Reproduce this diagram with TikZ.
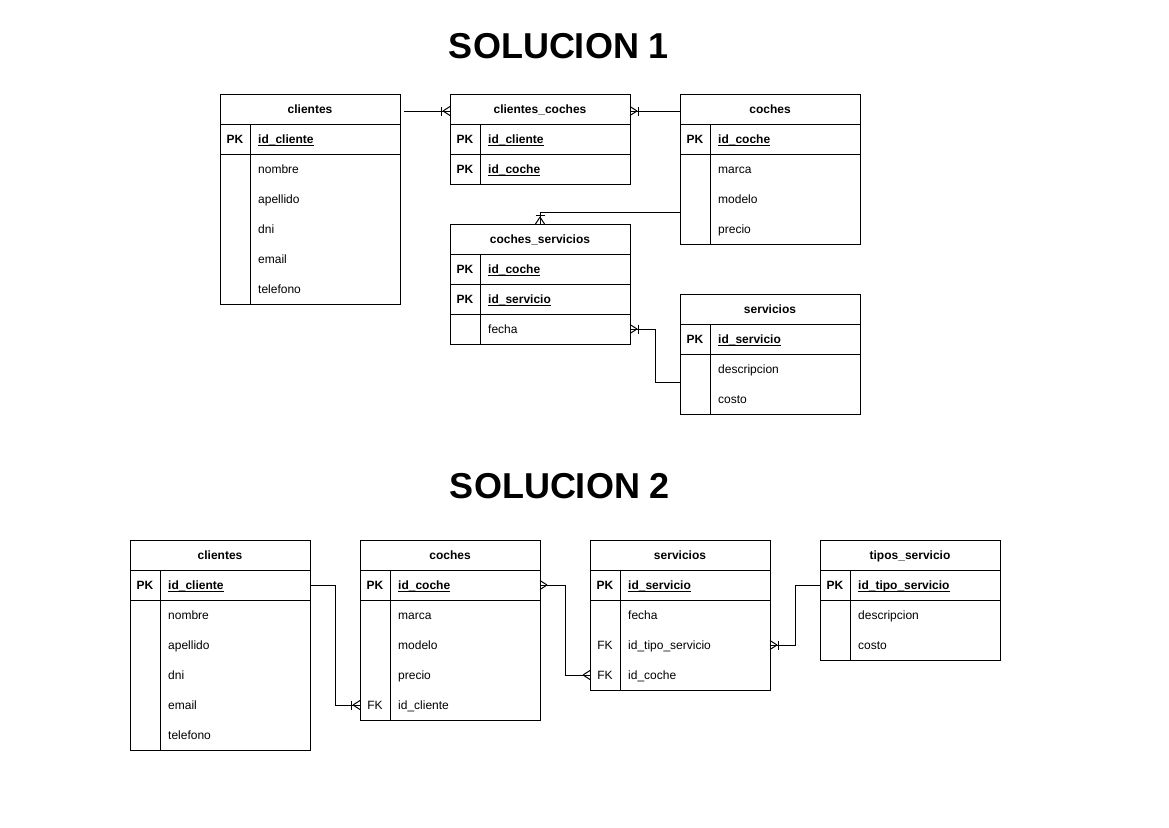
\documentclass[tikz,border=0pt]{standalone}
\usepackage{fontspec}
\setmainfont{Liberation Sans}
\usetikzlibrary{calc}
\newcommand\ulbox[1]{\setbox0\hbox{#1}\rlap{\rule[-2.6pt]{\wd0}{0.9pt}}\box0}
\tikzset{
  x=1pt, y=-1pt,
  tbl/.style={draw, line width=1pt, anchor=north west, minimum width=180pt, inner sep=0pt, outer sep=0pt},
  hdr/.style={font=\fontsize{12}{14}\selectfont\bfseries, inner sep=0pt, anchor=base},
  keyt/.style={font=\fontsize{12}{14}\selectfont\bfseries, inner sep=0pt, anchor=base},
  fkt/.style={font=\fontsize{12}{14}\selectfont, inner sep=0pt, anchor=base},
  fldt/.style={font=\fontsize{12}{14}\selectfont, anchor=base west, inner sep=0pt},
  pkf/.style={font=\fontsize{12}{14}\selectfont\bfseries, anchor=base west, inner sep=0pt},
  titlet/.style={font=\fontsize{36}{40}\selectfont\bfseries, inner sep=0pt},
  conn/.style={line width=1pt},
  sepl/.style={line width=1pt},
}
% table: name, x, y, title, rows
\newcommand\ertable[5]{%
  \node[tbl, minimum height={(#5+1)*30pt}] (#1) at (#2,#3) {};
  \node[hdr] (#1-h) at (#2+90,#3+19.5) {#4};
  \draw[sepl] (#2,#3+30) -- (#2+180,#3+30);
  \draw[sepl] (#2+30,#3+30) -- (#2+30,#3+30+#5*30);
}
% row: name, x, ytop, key, keystyle, field, fieldstyle
\newcommand\errow[7]{%
  \node[#5] (#1-k) at (#2+15,#3+19.5) {#4};
  \node[#7] (#1-f) at (#2+38,#3+19.5) {#6};
}
\newcommand\rowsep[2]{\draw[sepl] (#1,#2) -- (#1+180,#2);}
% crow's feet: E = table to the right, W = table to the left, S = table below
\newcommand\crowE[1]{\begin{scope}[shift={(#1)}]\draw[conn] (-7,0) -- (0,-4.5) (-7,0) -- (0,4.5);\end{scope}}
\newcommand\crowW[1]{\begin{scope}[shift={(#1)}]\draw[conn] (7,0) -- (0,-4.5) (7,0) -- (0,4.5);\end{scope}}
\newcommand\crowS[1]{\begin{scope}[shift={(#1)}]\draw[conn] (0,-7) -- (-4.5,0) (0,-7) -- (4.5,0);\end{scope}}
\newcommand\barE[1]{\begin{scope}[shift={(#1)}]\draw[conn] (-8.5,-4.5) -- (-8.5,4.5);\end{scope}}
\newcommand\barW[1]{\begin{scope}[shift={(#1)}]\draw[conn] (8.5,-4.5) -- (8.5,4.5);\end{scope}}
\newcommand\barS[1]{\begin{scope}[shift={(#1)}]\draw[conn] (-4.5,-8.5) -- (4.5,-8.5);\end{scope}}
\begin{document}
\begin{tikzpicture}
\useasboundingbox[fill=white] (0,0) rectangle (1169,827);

\node[titlet] (t1) at (559,46) {SOLUCION 1};
\node[titlet] (t2) at (560,486) {SOLUCION 2};

% ---------- SOLUCION 1 ----------
\ertable{cl1}{220}{94}{clientes}{6}
\rowsep{220}{154}
\errow{cl1a}{220}{124}{PK}{keyt}{\ulbox{id\_cliente}}{pkf}
\errow{cl1b}{220}{154}{}{keyt}{nombre}{fldt}
\errow{cl1c}{220}{184}{}{keyt}{apellido}{fldt}
\errow{cl1d}{220}{214}{}{keyt}{dni}{fldt}
\errow{cl1e}{220}{244}{}{keyt}{email}{fldt}
\errow{cl1f}{220}{274}{}{keyt}{telefono}{fldt}

\ertable{cc1}{450}{94}{clientes\_coches}{2}
\rowsep{450}{154}
\errow{cc1a}{450}{124}{PK}{keyt}{\ulbox{id\_cliente}}{pkf}
\errow{cc1b}{450}{154}{PK}{keyt}{\ulbox{id\_coche}}{pkf}

\ertable{co1}{680}{94}{coches}{4}
\rowsep{680}{154}
\errow{co1a}{680}{124}{PK}{keyt}{\ulbox{id\_coche}}{pkf}
\errow{co1b}{680}{154}{}{keyt}{marca}{fldt}
\errow{co1c}{680}{184}{}{keyt}{modelo}{fldt}
\errow{co1d}{680}{214}{}{keyt}{precio}{fldt}

\ertable{cs1}{450}{224}{coches\_servicios}{3}
\rowsep{450}{284}
\rowsep{450}{314}
\errow{cs1a}{450}{254}{PK}{keyt}{\ulbox{id\_coche}}{pkf}
\errow{cs1b}{450}{284}{PK}{keyt}{\ulbox{id\_servicio}}{pkf}
\errow{cs1c}{450}{314}{}{keyt}{fecha}{fldt}

\ertable{se1}{680}{294}{servicios}{3}
\rowsep{680}{354}
\errow{se1a}{680}{324}{PK}{keyt}{\ulbox{id\_servicio}}{pkf}
\errow{se1b}{680}{354}{}{keyt}{descripcion}{fldt}
\errow{se1c}{680}{384}{}{keyt}{costo}{fldt}

% connectors S1
\coordinate (k1a) at ($(cl1.north east)+(4,17)$);
\coordinate (k1b) at ($(cc1.north west)+(0,17)$);
\draw[conn] (k1a) -- (k1b);
\crowE{k1b}\barE{k1b}

\coordinate (k2a) at ($(co1.north west)+(0,17)$);
\coordinate (k2b) at ($(cc1.north east)+(0,17)$);
\draw[conn] (k2a) -- (k2b);
\crowW{k2b}\barW{k2b}

\coordinate (k3a) at ($(co1.north west)+(0,118)$);
\coordinate (k3b) at (cs1.north);
\draw[conn] (k3a) -| (k3b);
\crowS{k3b}\barS{k3b}

\coordinate (k4a) at ($(se1.north west)+(0,88)$);
\coordinate (k4b) at ($(cs1.north east)+(0,105)$);
\draw[conn] (k4a) -- ++(-25,0) |- (k4b);
\crowW{k4b}\barW{k4b}

% ---------- SOLUCION 2 ----------
\ertable{cl2}{130}{540}{clientes}{6}
\rowsep{130}{600}
\errow{cl2a}{130}{570}{PK}{keyt}{\ulbox{id\_cliente}}{pkf}
\errow{cl2b}{130}{600}{}{keyt}{nombre}{fldt}
\errow{cl2c}{130}{630}{}{keyt}{apellido}{fldt}
\errow{cl2d}{130}{660}{}{keyt}{dni}{fldt}
\errow{cl2e}{130}{690}{}{keyt}{email}{fldt}
\errow{cl2f}{130}{720}{}{keyt}{telefono}{fldt}

\ertable{co2}{360}{540}{coches}{5}
\rowsep{360}{600}
\errow{co2a}{360}{570}{PK}{keyt}{\ulbox{id\_coche}}{pkf}
\errow{co2b}{360}{600}{}{keyt}{marca}{fldt}
\errow{co2c}{360}{630}{}{keyt}{modelo}{fldt}
\errow{co2d}{360}{660}{}{keyt}{precio}{fldt}
\errow{co2e}{360}{690}{FK}{fkt}{id\_cliente}{fldt}

\ertable{se2}{590}{540}{servicios}{4}
\rowsep{590}{600}
\errow{se2a}{590}{570}{PK}{keyt}{\ulbox{id\_servicio}}{pkf}
\errow{se2b}{590}{600}{}{keyt}{fecha}{fldt}
\errow{se2c}{590}{630}{FK}{fkt}{id\_tipo\_servicio}{fldt}
\errow{se2d}{590}{660}{FK}{fkt}{id\_coche}{fldt}

\ertable{ts2}{820}{540}{tipos\_servicio}{3}
\rowsep{820}{600}
\errow{ts2a}{820}{570}{PK}{keyt}{\ulbox{id\_tipo\_servicio}}{pkf}
\errow{ts2b}{820}{600}{}{keyt}{descripcion}{fldt}
\errow{ts2c}{820}{630}{}{keyt}{costo}{fldt}

% connectors S2
\coordinate (k5a) at ($(cl2.north east)+(0,45)$);
\coordinate (k5b) at ($(co2.north west)+(0,165)$);
\draw[conn] (k5a) -- ++(25,0) |- (k5b);
\crowE{k5b}\barE{k5b}

\coordinate (k6a) at ($(co2.north east)+(0,45)$);
\coordinate (k6b) at ($(se2.north west)+(0,135)$);
\draw[conn] (k6a) -- ++(25,0) |- (k6b);
\crowW{k6a}
\crowE{k6b}

\coordinate (k7a) at ($(ts2.north west)+(0,45)$);
\coordinate (k7b) at ($(se2.north east)+(0,105)$);
\draw[conn] (k7a) -- ++(-25,0) |- (k7b);
\crowW{k7b}\barW{k7b}
\end{tikzpicture}
\end{document}
